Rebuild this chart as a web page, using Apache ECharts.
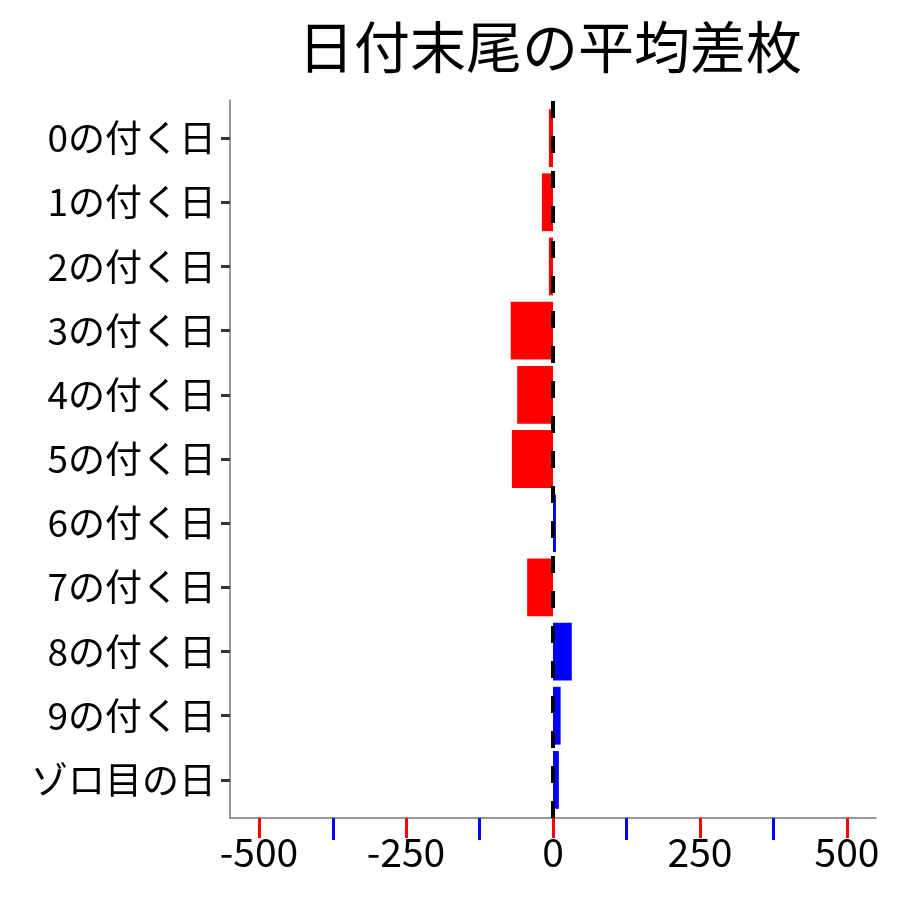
<!DOCTYPE html>
<html><head><meta charset="utf-8">
<script src="https://cdn.jsdelivr.net/npm/echarts@6/dist/echarts.min.js"></script>
<style>html,body{margin:0;padding:0;background:#fff}#c{width:900px;height:900px}</style>
</head><body><div id="c"></div>
<script>
const categories = ["0の付く日","1の付く日","2の付く日","3の付く日","4の付く日","5の付く日","6の付く日","7の付く日","8の付く日","9の付く日","ゾロ目の日"];
const values = [-7, -19, -7, -72, -61, -70, 5, -44, 32, 13, 10];
const xTickLabels = ["-500", "-250", "0", "250", "500"];
const xTickValues = [-500, -250, 0, 250, 500];
const axisMin = -550, axisMax = 550;
const font = "'Noto Sans CJK JP', 'Noto Sans', sans-serif";
const lineColor = '#777', tickColor = '#333';
const chart = echarts.init(document.getElementById('c'));
chart.setOption({
  animation: false,
  title: { text: "日付末尾の平均差枚", left: 545, top: 14, textAlign: 'center',
    textStyle: { fontFamily: font, fontSize: 56, fontWeight: 'normal', color: '#000' } },
  grid: [
    { left: 230, right: 24, top: 100, bottom: 82 },
    { left: 259, right: 53, top: 100, bottom: 82 },
    { left: 230, right: 24, top: 106, bottom: 88 },
    { left: 230, right: 24, top: 818, bottom: 60 }
  ],
  xAxis: [
    { gridIndex: 0, type: 'value', min: axisMin, max: axisMax,
      axisLine: { show: true, onZero: false, lineStyle: { color: lineColor, width: 1.5 } },
      axisTick: { show: false }, axisLabel: { show: false }, splitLine: { show: false } },
    { gridIndex: 1, type: 'category', data: xTickLabels, boundaryGap: false,
      axisLine: { show: false, onZero: false },
      axisTick: { show: true, alignWithLabel: true, length: 20, lineStyle: { color: '#f00', width: 3 } },
      axisLabel: { fontFamily: font, fontSize: 39, color: '#000', margin: 15, interval: 0 },
      splitLine: { show: false } },
    { gridIndex: 2, type: 'value', min: axisMin, max: axisMax, show: false },
    { gridIndex: 3, type: 'value', min: axisMin, max: axisMax, show: false }
  ],
  yAxis: [
    { gridIndex: 0, type: 'value', min: 0, max: 1,
      axisLine: { show: true, onZero: false, lineStyle: { color: lineColor, width: 1.5 } },
      axisTick: { show: false }, axisLabel: { show: false }, splitLine: { show: false } },
    { gridIndex: 1, type: 'value', min: 0, max: 1, show: false },
    { gridIndex: 2, type: 'category', data: categories, inverse: true,
      axisLine: { show: false, onZero: false },
      axisTick: { show: true, alignWithLabel: true, length: 9, lineStyle: { color: tickColor, width: 3 } },
      axisLabel: { fontFamily: font, fontSize: 37, color: '#000', margin: 14 } },
    { gridIndex: 3, type: 'value', min: 0, max: 1, show: false }
  ],
  series: [
    { type: 'bar', xAxisIndex: 2, yAxisIndex: 2, barCategoryGap: '10%', z: 2,
      data: values.map(v => ({ value: v, itemStyle: { color: v < 0 ? '#FF0000' : '#0000FF' } })) },
    { type: 'line', xAxisIndex: 0, yAxisIndex: 0, data: [], z: 10,
      markLine: { silent: true, symbol: 'none', z: 10, label: { show: false },
        lineStyle: { color: '#000', width: 4, type: [17, 18] },
        data: [{ xAxis: 0 }] } },
    { type: 'line', xAxisIndex: 3, yAxisIndex: 3, data: [], z: 5,
      markLine: { silent: true, symbol: 'none', label: { show: false },
        lineStyle: { color: '#00f', width: 3, type: 'solid' },
        data: [-375, -125, 125, 375].map(v => ({ xAxis: v })) } }
  ]
});
</script></body></html>
